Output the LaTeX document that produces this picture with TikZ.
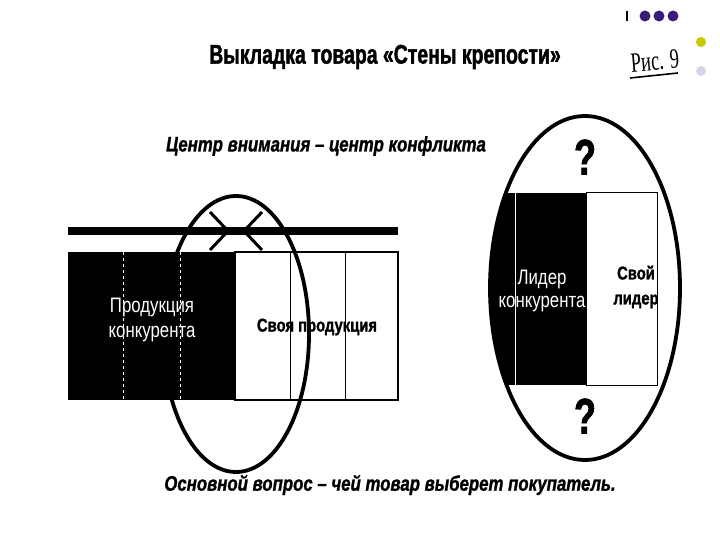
\documentclass[tikz,border=0pt]{standalone}
\usepackage{fontspec}
\setmainfont{Liberation Sans}
\newfontfamily\narrowfont[FakeStretch=0.8, BoldFeatures={FakeBold=1.2}, BoldItalicFeatures={FakeBold=1.2}]{Liberation Sans}
\newfontfamily\headfont[FakeStretch=0.72, BoldFeatures={FakeBold=1.4}]{Liberation Sans}
\newfontfamily\figfont[FakeStretch=0.66]{Liberation Serif}
\definecolor{dotpurple}{HTML}{3B1C78}
\definecolor{dotyellow}{HTML}{C8C800}
\definecolor{dotlilac}{HTML}{D4D4EA}
\tikzset{
  heading/.style={font=\headfont\bfseries\fontsize{27}{30}\selectfont},
  slogan/.style={font=\narrowfont\bfseries\itshape\fontsize{21}{24}\selectfont},
  shelftext/.style={font=\narrowfont\fontsize{21}{25}\selectfont, align=center},
  owntext/.style={font=\narrowfont\bfseries\fontsize{18.5}{25}\selectfont, align=center},
  query/.style={font=\headfont\bfseries\fontsize{50}{54}\selectfont, inner sep=0pt},
  focus/.style={line width=3.8pt}
}
\begin{document}
\begin{tikzpicture}[x=1pt, y=1pt]
  \useasboundingbox[fill=white] (0,0) rectangle (720,-540);
  % corner marks
  \fill (626,-11) rectangle (627.5,-21);
  \foreach \cx in {645,659,673}
    \fill[dotpurple] (\cx,-16) circle (5.5);
  \fill[dotyellow] (701,-42) circle (5);
  \fill[dotlilac] (701,-71) circle (5);
  \node[font=\figfont\fontsize{28}{30}\selectfont, rotate=5] (fig) at (655,-61) {Рис. 9};
  \draw[line width=1.6pt] (630,-78) -- (678,-73);
  % titles
  \node[heading] (title) at (385,-57) {Выкладка товара «Стены крепости»};
  \node[slogan] (focuslabel) at (326,-146) {Центр внимания – центр конфликта};
  \node[slogan] (question) at (390,-485) {Основной вопрос – чей товар выберет покупатель.};
  % shelf edge and the two chevrons
  \draw[line width=7pt] (68,-231) -- (398,-231);
  \coordinate (tipleft) at (228,-231);
  \coordinate (tipright) at (244,-231);
  \draw[line width=3pt] (210,-212) -- (tipleft) -- (210,-250);
  \draw[line width=3pt] (262,-212) -- (tipright) -- (262,-250);
  % left shelf
  \fill (68,-252) rectangle (235,-400);
  \draw[white, dashed, line width=0.8pt] (123,-252) -- (123,-400);
  \draw[white, dashed, line width=0.8pt] (180,-252) -- (180,-400);
  \draw[line width=1.2pt] (235,-252) rectangle (398,-400);
  \draw[line width=1pt] (290,-252) -- (290,-400);
  \draw[line width=1pt] (345,-252) -- (345,-400);
  \node[owntext] (owngoods) at (317,-327) {Своя продукция};
  \draw[focus] (236,-334) ellipse (73 and 138);
  \node[shelftext, white] (rivalgoods) at (152,-320) {Продукция\\конкурента};
  % right shelf, zoomed in
  \begin{scope}
    \clip (585,-288) ellipse (95 and 172);
    \fill (480,-193) rectangle (586,-385);
  \end{scope}
  \draw[white, line width=1pt] (515,-193) -- (515,-385);
  \draw[line width=1pt] (586,-193) rectangle (657,-385);
  \node[shelftext, white, font=\narrowfont\fontsize{21}{23}\selectfont] (rivalleader) at (542,-291) {Лидер\\конкурента};
  \node[owntext] (ownleader) at (636,-287) {Свой\\лидер};
  \node[query] (qtop) at (585,-157) {?};
  \node[query] (qbottom) at (585,-416) {?};
  \draw[focus] (585,-288) ellipse (95 and 172);
\end{tikzpicture}
\end{document}
